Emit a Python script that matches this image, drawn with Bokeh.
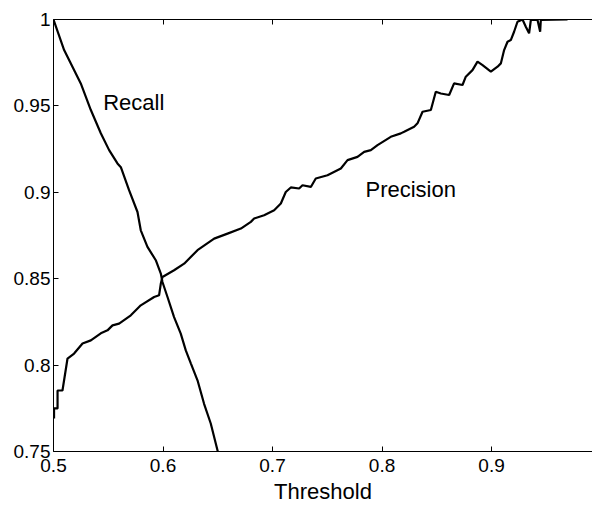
from bokeh.plotting import figure
from bokeh.models import LinearAxis, FixedTicker, Label, Range1d
from bokeh.embed import file_html
from bokeh.resources import INLINE

# ---- data ----
recall_threshold = [0.5000, 0.5097, 0.5249, 0.5341, 0.5432, 0.5508, 0.5584, 0.5615,
                    0.5690, 0.5767, 0.5797, 0.5858, 0.5934, 0.5980, 0.5995, 0.6041,
                    0.6101, 0.6162, 0.6208, 0.6254, 0.6315, 0.6375, 0.6436, 0.6498, 0.6530]
recall_values = [1.0000, 0.9823, 0.9630, 0.9476, 0.9342, 0.9244, 0.9167, 0.9145,
                 0.9012, 0.8886, 0.8780, 0.8684, 0.8607, 0.8530, 0.8481, 0.8394,
                 0.8278, 0.8182, 0.8085, 0.8010, 0.7912, 0.7776, 0.7662, 0.7506, 0.7420]

precision_threshold = [0.5005, 0.5005, 0.5037, 0.5037, 0.5082, 0.5128, 0.5188, 0.5265,
                       0.5341, 0.5432, 0.5493, 0.5539, 0.5599, 0.5706, 0.5797, 0.5919,
                       0.5964, 0.5980, 0.5995, 0.6101, 0.6193, 0.6315, 0.6467, 0.6589,
                       0.6711, 0.6802, 0.6832, 0.6923, 0.7015, 0.7076, 0.7121, 0.7167,
                       0.7243, 0.7274, 0.7350, 0.7395, 0.7502, 0.7624, 0.7685, 0.7776,
                       0.7837, 0.7898, 0.7959, 0.8080, 0.8172, 0.8202, 0.8293, 0.8324,
                       0.8370, 0.8446, 0.8491, 0.8537, 0.8613, 0.8658, 0.8735, 0.8765,
                       0.8826, 0.8872, 0.8918, 0.8994, 0.9055, 0.9085, 0.9115, 0.9146,
                       0.9176, 0.9206, 0.9237, 0.9283, 0.9313, 0.9343, 0.9359, 0.9420,
                       0.9444, 0.9450, 0.9694]
precision_values = [0.7691, 0.7749, 0.7749, 0.7853, 0.7853, 0.8038, 0.8067, 0.8125,
                    0.8143, 0.8184, 0.8201, 0.8230, 0.8240, 0.8288, 0.8346, 0.8394,
                    0.8404, 0.8472, 0.8510, 0.8549, 0.8587, 0.8665, 0.8732, 0.8761,
                    0.8790, 0.8829, 0.8848, 0.8867, 0.8896, 0.8935, 0.9002, 0.9028,
                    0.9022, 0.9041, 0.9031, 0.9080, 0.9099, 0.9138, 0.9186, 0.9205,
                    0.9234, 0.9244, 0.9273, 0.9321, 0.9341, 0.9350, 0.9379, 0.9399,
                    0.9466, 0.9476, 0.9582, 0.9572, 0.9563, 0.9630, 0.9621, 0.9669,
                    0.9707, 0.9756, 0.9736, 0.9698, 0.9727, 0.9746, 0.9823, 0.9871,
                    0.9881, 0.9929, 0.9987, 1.0000, 0.9958, 0.9920, 0.9997, 0.9997,
                    0.9929, 0.9997, 1.0000]

x_ticks = [0.5, 0.6, 0.7, 0.8, 0.9]
x_tick_labels = ["0.5", "0.6", "0.7", "0.8", "0.9"]
y_ticks = [0.75, 0.8, 0.85, 0.9, 0.95, 1.0]
y_tick_labels = ["0.75", "0.8", "0.85", "0.9", "0.95", "1"]

FONT = "Liberation Sans"

p = figure(width=592, height=506, output_backend="svg", toolbar_location=None,
           x_range=Range1d(0.5, 0.9922), y_range=Range1d(0.75, 1.0),
           min_border_left=53, min_border_right=0, min_border_top=19,
           min_border_bottom=55, background_fill_color="white",
           border_fill_color="white")
p.outline_line_color = None
p.grid.visible = False

p.line(recall_threshold, recall_values, line_color="black", line_width=2.2)
p.line(precision_threshold, precision_values, line_color="black", line_width=2.2)

for ax in p.xaxis:
    ax.ticker = FixedTicker(ticks=x_ticks)
    ax.major_label_overrides = dict(zip(x_ticks, x_tick_labels))
for ax in p.yaxis:
    ax.ticker = FixedTicker(ticks=y_ticks)
    ax.major_label_overrides = dict(zip(y_ticks, y_tick_labels))

for ax in list(p.xaxis) + list(p.yaxis):
    ax.major_tick_in = 5
    ax.major_tick_out = 0
    ax.minor_tick_line_color = None
    ax.axis_line_color = "black"
    ax.major_tick_line_color = "black"
    ax.major_label_text_font = FONT
    ax.major_label_text_font_size = "19px"
    ax.major_label_text_color = "black"
p.xaxis.major_label_standoff = 7
p.yaxis.major_label_standoff = 3
p.xaxis.axis_label = "Threshold"
p.xaxis.axis_label_text_font = FONT
p.xaxis.axis_label_text_font_size = "22px"
p.xaxis.axis_label_text_font_style = "normal"
p.xaxis.axis_label_text_color = "black"
p.xaxis.axis_label_standoff = 4

top = LinearAxis(ticker=FixedTicker(ticks=x_ticks), major_tick_in=5, major_tick_out=0,
                 minor_tick_line_color=None, major_label_standoff=0,
                 major_label_overrides={t: "" for t in x_ticks},
                 axis_line_color="black", major_tick_line_color="black")
p.add_layout(top, "above")

p.add_layout(Label(x=0.5454, y=0.9521, text="Recall", text_font=FONT,
                   text_font_size="22px", text_color="black",
                   text_baseline="alphabetic"))
p.add_layout(Label(x=0.7849, y=0.9014, text="Precision", text_font=FONT,
                   text_font_size="22px", text_color="black",
                   text_baseline="alphabetic"))

open("out.html", "w").write(file_html(p, INLINE))
